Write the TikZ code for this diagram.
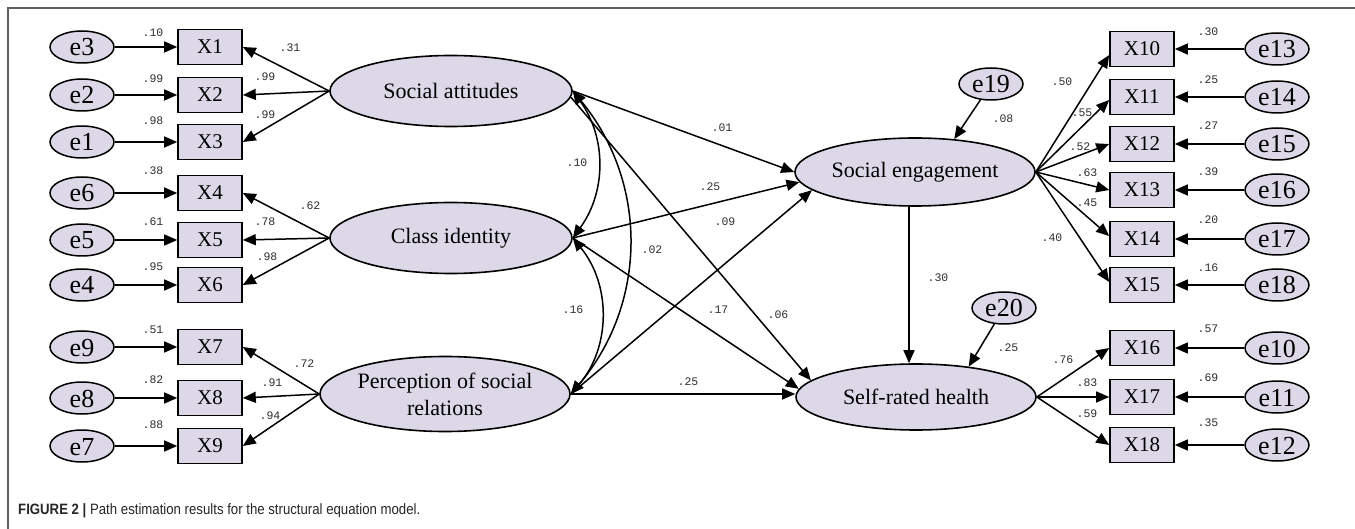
\documentclass[tikz,border=0pt]{standalone}
\usepackage{fontspec}
\setmainfont{Liberation Serif}
\newfontfamily\numfont{Liberation Mono}
\newfontfamily\capfont{Liberation Sans}
\usetikzlibrary{shapes.geometric,arrows.meta}
\definecolor{fillc}{RGB}{220,216,232}
\definecolor{numc}{RGB}{45,45,45}
\definecolor{framec}{RGB}{95,95,95}
\begin{document}
\begin{tikzpicture}[x=1pt,y=-1pt,
 errnode/.style={ellipse,draw,fill=fillc,line width=1.5pt,minimum width=64pt,minimum height=32pt,inner sep=0pt,text height=18pt,text depth=0pt,font=\fontsize{26}{28}\selectfont},
 obsnode/.style={rectangle,draw,fill=fillc,line width=1.6pt,minimum width=64pt,minimum height=35pt,inner sep=0pt,font=\fontsize{21}{22}\selectfont},
 latnode/.style={ellipse,draw,fill=fillc,line width=1.6pt,inner sep=0pt,font=\fontsize{22}{27}\selectfont,align=center},
 lbl/.style={font=\numfont\fontsize{11.5}{12}\selectfont,text=numc,inner sep=0pt},
 arr/.style={-{Triangle[length=13pt,width=11pt]},line width=1.5pt},
 cov/.style={{Triangle[length=13pt,width=11pt]}-{Triangle[length=13pt,width=11pt]},line width=1.5pt},
]
\useasboundingbox (0,0) rectangle (1355,529);
\draw[framec,line width=1.4pt] (8,529) -- (8,8) -- (1355,8);

% left error terms and indicators
\foreach \e/\xo/\y in {e3/X1/47,e2/X2/95,e1/X3/142,e6/X4/193,e5/X5/240,e4/X6/285,e9/X7/347,e8/X8/398,e7/X9/446}{
  \node[errnode] (\e) at (82,\y) {\e};
  \node[obsnode] (\xo) at (210,\y) {\xo};
  \draw[arr] (\e) -- (\xo);
}

% right indicators and error terms
\foreach \xo/\e/\y in {X10/e13/49,X11/e14/97,X12/e15/144,X13/e16/190,X14/e17/239,X15/e18/285,X16/e10/348,X17/e11/397,X18/e12/445}{
  \node[obsnode] (\xo) at (1142,\y) {\xo};
  \node[errnode] (\e) at (1277,\y) {\e};
  \draw[arr] (\e) -- (\xo);
}

% latent variables
\node[latnode,minimum width=242pt,minimum height=71pt] (SA) at (451,91) {Social attitudes};
\node[latnode,minimum width=242pt,minimum height=71pt] (CI) at (451,238) {Class identity};
\node[latnode,minimum width=250pt,minimum height=75pt] (PSR) at (445,394) {Perception of social\\relations};
\node[latnode,minimum width=240pt,minimum height=68pt] (SE) at (915,172) {Social engagement};
\node[latnode,minimum width=240pt,minimum height=66pt] (SRH) at (916,397) {Self-rated health};
\node[errnode] (e19) at (991,84) {e19};
\node[errnode] (e20) at (1004,308) {e20};

% measurement paths
\draw[arr] (SA.west) -- (X1.east);
\draw[arr] (SA.west) -- (X2.east);
\draw[arr] (SA.west) -- (X3.east);
\draw[arr] (CI.west) -- (X4.east);
\draw[arr] (CI.west) -- (X5.east);
\draw[arr] (CI.west) -- (X6.east);
\draw[arr] (PSR.west) -- (X7.east);
\draw[arr] (PSR.west) -- (X8.east);
\draw[arr] (PSR.west) -- (X9.east);
\draw[arr] (SE.east) -- ([yshift=-6pt]X10.west);
\draw[arr] (SE.east) -- ([yshift=-3pt]X11.west);
\draw[arr] (SE.east) -- (X12.west);
\draw[arr] (SE.east) -- (X13.west);
\draw[arr] (SE.east) -- ([yshift=3pt]X14.west);
\draw[arr] (SE.east) -- ([yshift=3pt]X15.west);
\draw[arr] (SRH.east) -- (X16.west);
\draw[arr] (SRH.east) -- (X17.west);
\draw[arr] (SRH.east) -- (X18.west);

% structural paths
\draw[arr] (SA.east) -- (SE.180);
\draw[arr] (CI.east) -- (SE.185);
\draw[arr] (PSR.east) -- (SE.190);
\draw[arr] (SA.-3) -- (SRH.171);
\draw[arr] (CI.east) -- (SRH.176);
\draw[arr] (PSR.east) -- (PSR.east -| SRH.west);
\draw[arr] ([xshift=-6pt]SE.south) -- ([xshift=-6pt]SE.south |- SRH.north);
\draw[arr] (e19) -- (SE.40);
\draw[arr] (e20) -- (SRH.30);

% covariances
\draw[cov] (SA.east) to[bend left=36] (CI.east);
\draw[cov] (CI.east) to[bend left=40] (PSR.east);
\draw[cov] (SA.east) to[bend left=40] (PSR.east);

% coefficient labels
\foreach \t/\x/\y [count=\i] in {
 .10/153/33,.99/153/79,.98/153/121,.38/153/171,.61/153/222,.95/153/267,.51/153/330,.82/153/380,.88/153/425,
 .31/290/48,.99/265/77,.99/265/115,.62/310/206,.78/265/222,.98/267/257,.72/304/364,.91/272/383,.94/270/416,
 .01/722/128,.25/710/187,.09/725/222,.10/577/163,.02/652/250,.16/573/310,.17/718/310,.06/778/315,.25/688/382,
 .30/938/278,.08/1003/119,.25/1008/348,
 .30/1208/32,.25/1208/80,.27/1208/126,.39/1208/172,.20/1208/220,.16/1208/268,.57/1208/329,.69/1208/378,.35/1208/423,
 .50/1062/82,.55/1082/113,.52/1080/147,.63/1087/173,.45/1087/203,.40/1052/238,
 .76/1063/360,.83/1087/383,.59/1087/414}{
  \node[lbl] (lab\i) at (\x,\y) {\t};
}

% caption
\node[anchor=base west,inner sep=0pt,text=black!85,font=\capfont\fontsize{15}{16}\selectfont] (cap) at (18,514)
 {\scalebox{0.88}[1]{\textbf{FIGURE 2 |} Path estimation results for the structural equation model.}};
\end{tikzpicture}
\end{document}
